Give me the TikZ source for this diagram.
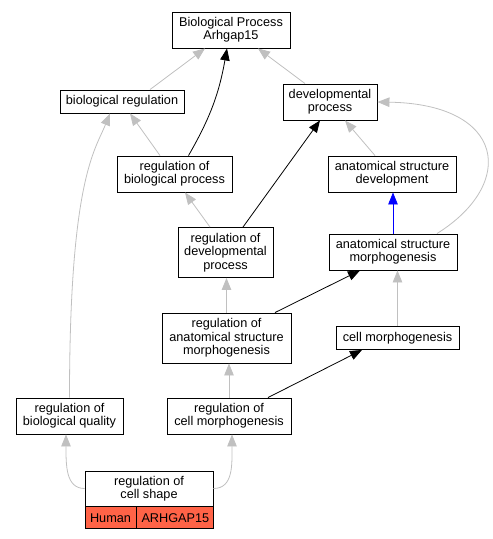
\documentclass[tikz,border=0pt]{standalone}
\usepackage{fontspec}
\setmainfont{Liberation Sans}
\usetikzlibrary{arrows.meta}
\definecolor{linkgray}{HTML}{C0C0C0}
\definecolor{tomato}{HTML}{FF6347}

\begin{document}
\begin{tikzpicture}[
    x=1pt, y=-1pt,
    term/.style = {draw, fill=white, align=center, inner sep=0pt, line width=0.9pt, minimum height=36pt, font=\fontsize{12.7}{13.4}\selectfont},
    cell/.style = {term, fill=tomato, minimum height=22pt, anchor=north west},
    link/.style = {-{Triangle[length=12pt,width=9.5pt]}, line width=0.8pt},
    secondary/.style = {color=linkgray},
    partof/.style = {color=blue}
    ]
    \useasboundingbox (0,0) rectangle (493,539);

    \node[term, minimum width=118pt] (bp) at (231,30) {Biological Process\\Arhgap15};
    \node[term, minimum width=124pt, minimum height=23pt] (bioreg) at (122,101.5) {biological regulation};
    \node[term, minimum width=94pt] (devproc) at (330,102) {developmental\\process};
    \node[term, minimum width=115pt] (regbio) at (174.5,174) {regulation of\\biological process};
    \node[term, minimum width=128pt] (asd) at (392,174) {anatomical structure\\development};
    \node[term, minimum width=95pt, minimum height=50pt] (regdev) at (225.5,252.5) {regulation of\\developmental\\process};
    \node[term, minimum width=128pt] (asm) at (393,252) {anatomical structure\\morphogenesis};
    \node[term, minimum width=129pt, minimum height=50pt] (regasm) at (226.5,338) {regulation of\\anatomical structure\\morphogenesis};
    \node[term, minimum width=123pt, minimum height=23pt] (cellmorph) at (397.5,338) {cell morphogenesis};
    \node[term, minimum width=107pt] (regqual) at (69.5,416) {regulation of\\biological quality};
    \node[term, minimum width=124pt] (regcm) at (229,416) {regulation of\\cell morphogenesis};
    \node[term, minimum width=128pt, minimum height=35pt] (shape) at (149,488.5) {regulation of\\cell shape};
    \node[cell, minimum width=51pt] (human) at (shape.south west) {Human};
    \node[cell, minimum width=77pt] (gene) at (human.north east) {ARHGAP15};

    % is_a
    \draw[link,secondary] ([xshift=28pt]bioreg.north) -- ([xshift=-26pt]bp.south);
    \draw[link,secondary] ([xshift=-25pt]devproc.north) -- ([xshift=27pt]bp.south);
    \draw[link,secondary] ([xshift=-14.5pt]regbio.north) -- ([xshift=8pt]bioreg.south);
    \draw[link,secondary] ([xshift=-15.5pt]regdev.north) -- ([xshift=10.5pt]regbio.south);
    \draw[link,secondary] ([xshift=-17pt]asd.north) -- ([xshift=15pt]devproc.south);
    \draw[link,secondary] ([xshift=44pt]asm.north) .. controls +(80,-50) and +(128,2) .. (devproc.east);
    \draw[link,secondary] (regasm.north) -- (regasm.north |- regdev.south);
    \draw[link,secondary] (cellmorph.north) -- (cellmorph.north |- asm.south);
    \draw[link,secondary] (regcm.north) -- (regcm.north |- regasm.south);
    \draw[link,secondary] (regqual.north) .. controls +(0,-218) and +(-15,37) .. ([xshift=-12pt]bioreg.south);
    \draw[link,secondary] (shape.west) .. controls +(-19,0) and +(0,30) .. ([xshift=-3.5pt]regqual.south);
    \draw[link,secondary] (shape.east) .. controls +(20,0) and +(0,30) .. ([xshift=3pt]regcm.south);

    % regulates
    \draw[link] ([xshift=14pt]regbio.north) to[out=60, in=-100] ([xshift=-4pt]bp.south);
    \draw[link] ([xshift=17.5pt]regdev.north) -- ([xshift=-10pt]devproc.south);
    \draw[link] ([xshift=48.5pt]regasm.north) -- ([xshift=-33pt]asm.south);
    \draw[link] ([xshift=39pt]regcm.north) -- ([xshift=-35.5pt]cellmorph.south);

    % part_of
    \draw[link,partof] (asm.north) -- (asm.north |- asd.south);
  \end{tikzpicture}
\end{document}
